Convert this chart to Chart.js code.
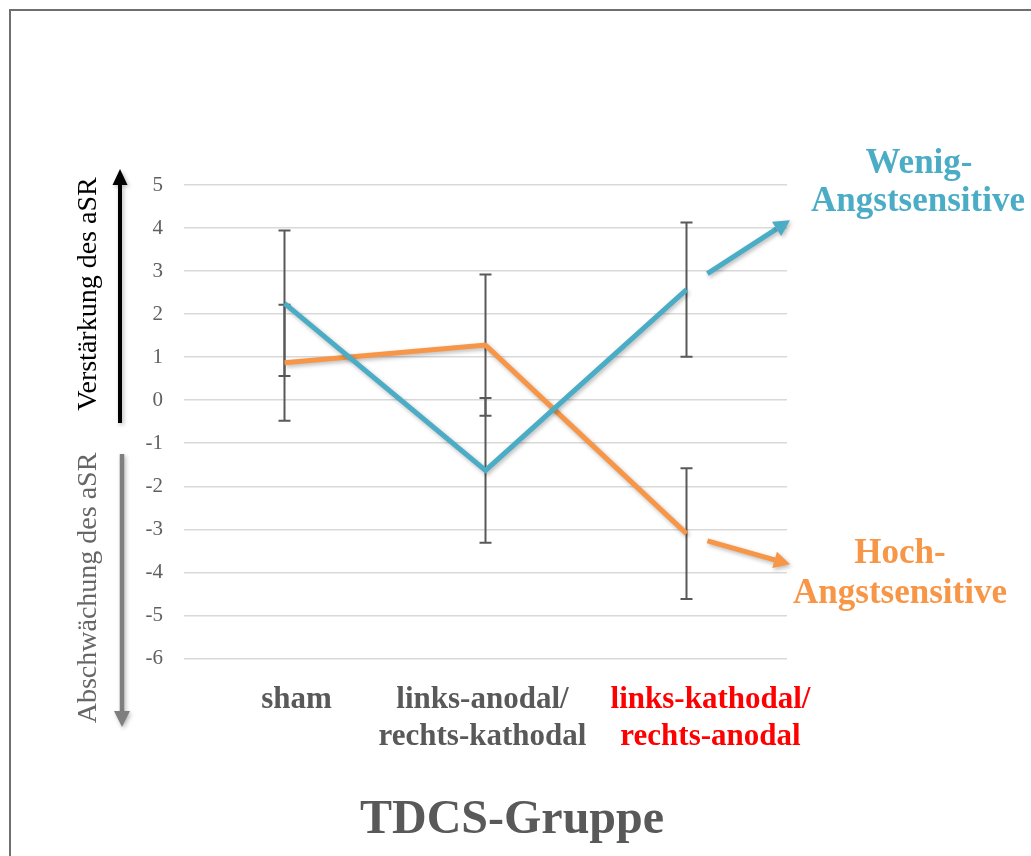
<!DOCTYPE html>
<html>
<head>
<meta charset="utf-8">
<script src="https://cdn.jsdelivr.net/npm/chart.js@4.4.0/dist/chart.umd.min.js"></script>
<style>
  html, body { margin: 0; padding: 0; background: #fff; overflow: hidden; }
  canvas { display: block; }
</style>
</head>
<body>
<canvas id="chart" width="1031" height="856"></canvas>
<script>
// --- data ---
var groups = [['sham'], ['links-anodal/', 'rechts-kathodal'], ['links-kathodal/', 'rechts-anodal']];
var yTicks = [5, 4, 3, 2, 1, 0, -1, -2, -3, -4, -5, -6];
var lowAnxious = [2.25, -1.63, 2.57];
var lowAnxiousErr = [1.69, 1.68, 1.56];
var highAnxious = [0.87, 1.28, -3.10];
var highAnxiousErr = [1.35, 1.64, 1.52];
// annotation arrows in data space: [x0, y0, x1, y1]
var lowArrow = [2.104, 2.94, 2.515, 4.18];
var highArrow = [2.104, -3.27, 2.515, -3.81];

var BLUE = '#4BACC6';
var ORANGE = '#F79646';
var GREY = '#595959';
var SERIF = '"Liberation Serif", "Times New Roman", serif';
var labelColors = [GREY, GREY, '#FF0000'];
// the category labels in the original sit a little off their tick
var labelShift = [12, -3, 24];

function arrow(ctx, x0, y0, x1, y1, width, head, headW, color) {
    var ang = Math.atan2(y1 - y0, x1 - x0);
    var bx = x1 - Math.cos(ang) * head;
    var by = y1 - Math.sin(ang) * head;
    ctx.strokeStyle = color;
    ctx.fillStyle = color;
    ctx.lineWidth = width;
    ctx.lineCap = 'butt';
    ctx.beginPath();
    ctx.moveTo(x0, y0);
    ctx.lineTo(bx, by);
    ctx.stroke();
    ctx.beginPath();
    ctx.moveTo(x1, y1);
    ctx.lineTo(bx + Math.sin(ang) * headW / 2, by - Math.cos(ang) * headW / 2);
    ctx.lineTo(bx - Math.sin(ang) * headW / 2, by + Math.cos(ang) * headW / 2);
    ctx.closePath();
    ctx.fill();
}

function shadow(ctx) {
    ctx.shadowColor = 'rgba(0,0,0,0.28)';
    ctx.shadowBlur = 4;
    ctx.shadowOffsetX = 1.5;
    ctx.shadowOffsetY = 2;
}

var decor = {
    id: 'decor',
    beforeDatasetsDraw: function(chart) {
        var ctx = chart.ctx;
        var xs = chart.scales.x, ys = chart.scales.y;
        ctx.save();
        ctx.strokeStyle = GREY;
        ctx.lineWidth = 2;
        [[lowAnxious, lowAnxiousErr], [highAnxious, highAnxiousErr]].forEach(function(s) {
            s[0].forEach(function(v, i) {
                var x = xs.getPixelForValue(i);
                var top = ys.getPixelForValue(v + s[1][i]);
                var bot = ys.getPixelForValue(v - s[1][i]);
                ctx.beginPath();
                ctx.moveTo(x, top); ctx.lineTo(x, bot);
                ctx.moveTo(x - 6, top); ctx.lineTo(x + 6, top);
                ctx.moveTo(x - 6, bot); ctx.lineTo(x + 6, bot);
                ctx.stroke();
            });
        });
        ctx.restore();
    },
    beforeDatasetDraw: function(chart) {
        chart.ctx.save();
        shadow(chart.ctx);
    },
    afterDatasetDraw: function(chart) {
        chart.ctx.restore();
    },
    afterDraw: function(chart) {
        var ctx = chart.ctx;
        var xs = chart.scales.x, ys = chart.scales.y;
        ctx.save();

        // outer frame
        ctx.strokeStyle = '#6f6f6f';
        ctx.lineWidth = 2;
        ctx.strokeRect(10, 10, 1100, 1000);

        // annotation arrows
        ctx.save();
        shadow(ctx);
        [[lowArrow, BLUE], [highArrow, ORANGE]].forEach(function(a) {
            var p = a[0];
            arrow(ctx, xs.getPixelForValue(p[0]), ys.getPixelForValue(p[1]),
                  xs.getPixelForValue(p[2]), ys.getPixelForValue(p[3]), 5, 16, 17, a[1]);
        });
        // axis direction arrows
        arrow(ctx, 120, 423, 120, 169, 4, 16, 15, '#000000');
        arrow(ctx, 122, 454, 122, 727, 4.5, 16, 16, '#7f7f7f');
        ctx.restore();

        // category labels
        ctx.font = 'bold 31px ' + SERIF;
        ctx.textAlign = 'center';
        ctx.textBaseline = 'middle';
        groups.forEach(function(lines, i) {
            var x = xs.getPixelForValue(i) + labelShift[i];
            ctx.fillStyle = labelColors[i];
            lines.forEach(function(t, j) {
                ctx.fillText(t, x, xs.top + 42 + j * 37);
            });
        });

        // group labels
        ctx.font = 'bold 35px ' + SERIF;
        ctx.textBaseline = 'alphabetic';
        ctx.fillStyle = BLUE;
        ctx.fillText('Wenig-', 919, 173);
        ctx.fillText('Angstsensitive', 918, 211);
        ctx.fillStyle = ORANGE;
        ctx.fillText('Hoch-', 900, 563);
        ctx.fillText('Angstsensitive', 900, 603);

        // x title
        ctx.font = 'bold 48px ' + SERIF;
        ctx.fillStyle = GREY;
        ctx.fillText('TDCS-Gruppe', 512, 833);

        // rotated y labels
        ctx.font = '28px ' + SERIF;
        ctx.textBaseline = 'middle';
        ctx.save();
        ctx.translate(89, 294);
        ctx.rotate(-Math.PI / 2);
        ctx.fillStyle = '#000000';
        ctx.fillText('Verstärkung des aSR', 0, 0);
        ctx.restore();
        ctx.save();
        ctx.translate(89, 588);
        ctx.rotate(-Math.PI / 2);
        ctx.fillStyle = '#666666';
        ctx.fillText('Abschwächung des aSR', 0, 0);
        ctx.restore();

        ctx.restore();
    }
};

new Chart(document.getElementById('chart'), {
    type: 'line',
    data: {
        labels: groups,
        datasets: [{
            label: 'Wenig-Angstsensitive',
            data: lowAnxious,
            borderColor: BLUE,
            borderWidth: 5,
            pointRadius: 0,
            tension: 0
        }, {
            label: 'Hoch-Angstsensitive',
            data: highAnxious,
            borderColor: ORANGE,
            borderWidth: 5,
            pointRadius: 0,
            tension: 0
        }]
    },
    options: {
        responsive: false,
        animation: false,
        events: [],
        layout: { padding: { left: 144, right: 244, top: 185, bottom: 0 } },
        plugins: {
            legend: { display: false },
            tooltip: { enabled: false }
        },
        scales: {
            x: {
                offset: true,
                grid: { display: false, drawTicks: false },
                border: { display: false },
                afterFit: function(scale) { scale.height = 197.6; },
                ticks: { display: false }
            },
            y: {
                min: -6,
                max: 5,
                afterFit: function(scale) { scale.width = 40; },
                afterBuildTicks: function(scale) {
                    scale.ticks = yTicks.map(function(v) { return { value: v }; });
                },
                grid: { color: '#d9d9d9', lineWidth: 1.5, drawTicks: false },
                border: { display: false },
                ticks: {
                    padding: 21,
                    color: '#606060',
                    font: { family: SERIF, size: 21 }
                }
            }
        }
    },
    plugins: [decor]
});
</script>
</body>
</html>
